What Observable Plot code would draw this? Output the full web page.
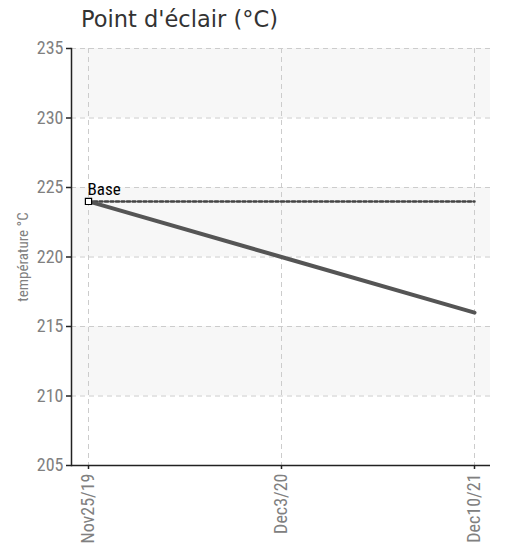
<!DOCTYPE html>
<html><head><meta charset="utf-8">
<script src="https://cdn.jsdelivr.net/npm/d3@7"></script>
<script src="https://cdn.jsdelivr.net/npm/@observablehq/plot@0.6"></script>
<style>
body{margin:0;background:#fff;}
#title{height:38px;font-family:"DejaVu Sans",sans-serif;font-size:22.5px;color:#333;padding-left:81px;line-height:38px;box-sizing:border-box;white-space:nowrap;}
</style></head><body>
<div id="title">Point d'éclair (°C)</div>
<div id="chart"></div>
<script>
const dates = ["Nov25/19", "Dec3/20", "Dec10/21"];
const values = [224, 220, 216];
const baseValue = 224;
const baseLabel = "Base";
const yTicks = [205, 210, 215, 220, 225, 230, 235];
const yLabel = "température °C";

const series = dates.map((d, i) => ({date: d, value: values[i]}));
const base = dates.map(d => ({date: d, value: baseValue}));
const bands = [];
for (let i = yTicks.length - 1; i > 0; i -= 2) bands.push({lo: yTicks[i - 1], hi: yTicks[i]});

const font = '"Roboto Condensed",sans-serif';

const chart = Plot.plot({
  width: 505,
  height: 507,
  marginLeft: 71,
  marginRight: 15,
  marginTop: 10,
  marginBottom: 80,
  style: {fontFamily: font, fontSize: "13px", color: "#808080", background: "#fff", overflow: "visible"},
  x: {type: "point", domain: dates, padding: 0.083},
  y: {domain: [205, 235], ticks: yTicks},
  marks: [
    Plot.barY(bands, {y1: "lo", y2: "hi", fill: "#f7f7f7"}),
    Plot.gridY(yTicks, {stroke: "#ccc", strokeOpacity: 1, strokeDasharray: "5,4", strokeWidth: 1}),
    Plot.gridX(dates, {stroke: "#ccc", strokeOpacity: 1, strokeDasharray: "5,4", strokeWidth: 1}),
    Plot.line(base, {x: "date", y: "value", stroke: "#444", strokeWidth: 2.5, strokeDasharray: "3,2.5"}),
    Plot.line(series, {x: "date", y: "value", stroke: "#555", strokeWidth: 4}),
    Plot.dot(base.slice(0, 1), {x: "date", y: "value", symbol: "square", r: 3.5, fill: "#fff", stroke: "#000", strokeWidth: 1.2}),
    Plot.text(base.slice(0, 1), {x: "date", y: "value", text: () => baseLabel, dx: -1, dy: -6, lineAnchor: "bottom", textAnchor: "start", fill: "#000", fontSize: 17}),
    Plot.ruleY([205], {stroke: "#222", strokeWidth: 1.5}),
    Plot.frame({anchor: "left", stroke: "#222", strokeWidth: 1.5}),
    Plot.axisY(yTicks, {tickSize: 5, tickPadding: 3, stroke: "#222", strokeWidth: 1.5, fill: "#808080", fontSize: 18, label: null}),
    Plot.axisX(dates, {tickSize: 4, tickPadding: 4, tickRotate: -90, stroke: "#222", strokeWidth: 1.5, fill: "#808080", fontSize: 18, label: null}),
    Plot.text([yLabel], {frameAnchor: "left", dx: -48, rotate: -90, fill: "#808080", fontSize: 15, textAnchor: "middle"})
  ]
});
document.getElementById("chart").appendChild(chart);
</script>
</body></html>
